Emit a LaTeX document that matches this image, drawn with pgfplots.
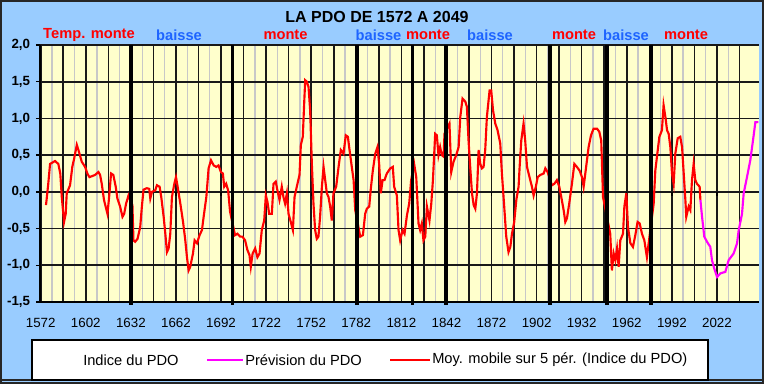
\documentclass[border=0pt]{standalone}
\usepackage{pgfplots}
\pgfplotsset{compat=1.18}
\usepackage{fontspec}
\setmainfont{Liberation Sans}
\definecolor{bgblue}{RGB}{153,204,255}
\definecolor{plotyel}{RGB}{255,255,204}
\definecolor{baisseblue}{RGB}{30,100,255}
\definecolor{gridgray}{RGB}{200,200,200}
\definecolor{pdored}{RGB}{255,0,0}
\definecolor{pdomag}{RGB}{255,0,255}
\begin{document}
\begin{tikzpicture}[x=0.75pt,y=0.75pt]
\useasboundingbox (0,0) rectangle (764,384);
\fill[bgblue] (0,0) rectangle (764,384);
\draw[black!85, line width=1.5pt] (1,1) rectangle (763,383);
\begin{axis}[
  at={(30pt,61.5pt)}, anchor=south west,
  scale only axis, width=539.25pt, height=192.75pt,
  xmin=1571.5, xmax=2050, ymin=-1.5, ymax=2,
  clip=false,
  axis background/.style={fill=plotyel},
  axis x line*=bottom, axis y line*=left,
  axis line style={black, line width=1.3pt},
  xtick={1572,1587,...,2037},
  xticklabels={1572,,1602,,1632,,1662,,1692,,1722,,1752,,1782,,1812,,1842,,1872,,1902,,1932,,1962,,1992,,2022,},
  minor x tick num=1,
  xmajorgrids, xminorgrids,
  major x grid style={black!90, line width=1.2pt},
  minor x grid style={gridgray, line width=1pt},
  xtick style={/pgfplots/major tick length=0pt},
  minor x tick style={/pgfplots/minor tick length=0pt},
  xticklabel style={anchor=center, yshift=-15.75pt, font=\fontsize{10}{12}\selectfont},
  ytick={-1.5,-1,...,2},
  ymajorgrids,
  major y grid style={black!90, line width=1.3pt},
  ytick align=outside,
  ytick style={black, line width=1pt, /pgfplots/major tick length=3pt},
  yticklabel style={anchor=east, inner sep=0pt, xshift=-3pt, font=\bfseries\fontsize{10}{12}\selectfont},
  /pgf/number format/.cd, use comma, fixed, fixed zerofill, precision=1, assume math mode=true,
]
\pgfplotsinvokeforeach{1572,1602,...,2022}{\draw[black, line width=1pt] (axis cs:#1,0) -- ([yshift=-3pt]axis cs:#1,0);}
% Moyenne mobile sur 5 periodes
\addplot[pdored, line width=1.6pt] coordinates {
(1575.5,-0.18) (1577,0.11) (1578.2,0.38) (1581.5,0.42) (1583.7,0.38) (1585,0.25) (1586,-0.07)
(1587.5,-0.41) (1588.6,-0.30) (1589.3,-0.02) (1591.5,0.09) (1593,0.34) (1594.2,0.45) (1596,0.64)
(1597.5,0.54) (1599.3,0.41) (1601.5,0.34) (1603,0.25) (1604.4,0.20) (1608.1,0.23) (1610.4,0.27)
(1611.5,0.23) (1612.6,0.11) (1614.1,-0.11) (1616.4,-0.30) (1617.5,-0.07) (1618.8,0.25) (1620.3,0.23)
(1621.9,0.07) (1623,-0.09) (1624.8,-0.20) (1626.4,-0.34) (1627.5,-0.30) (1628.8,-0.16) (1630.4,-0.05)
(1633,-0.18) (1633.7,-0.66) (1634.8,-0.68) (1636.4,-0.64) (1638.2,-0.48) (1639.3,-0.20) (1640.4,0.03)
(1642.6,0.05) (1644.2,0.04) (1644.9,-0.09) (1646,0.00) (1648.2,0.02) (1649.3,0.09) (1651.1,0.07)
(1652.2,-0.07) (1653.8,-0.34) (1654.9,-0.57) (1656,-0.82) (1657.1,-0.77) (1658.2,-0.57) (1659.3,-0.07)
(1660.9,0.11) (1662,0.20) (1663.1,0.07) (1664.9,-0.16) (1666.7,-0.41) (1668.2,-0.66) (1669.3,-0.89)
(1670.4,-1.07) (1671.5,-1.02) (1673.3,-0.84) (1674.4,-0.66) (1676,-0.70) (1677.7,-0.59) (1679.3,-0.52)
(1680.4,-0.34) (1682.2,-0.07) (1683.7,0.32) (1685.3,0.43) (1687.1,0.36) (1688.8,0.34) (1690.3,0.36)
(1691.9,0.27) (1693.2,0.25) (1694.1,0.07) (1695.4,0.11) (1696.7,0.02) (1698,-0.27)
(1701.3,-0.59) (1702.9,-0.57) (1704.7,-0.61) (1706.2,-0.61) (1708,-0.66) (1709.5,-0.79) (1710.9,-0.86)
(1711.8,-1.02) (1713,-0.84) (1714.7,-0.77) (1716.2,-0.89) (1717.6,-0.84) (1719.1,-0.52) (1720.7,-0.39)
(1721.8,-0.05) (1722.9,-0.14) (1724,-0.30) (1725.8,-0.30) (1726.9,0.11) (1728.4,0.14) (1729.5,0.02)
(1730.9,-0.11) (1732.4,0.07) (1733.5,-0.07) (1734.6,-0.16) (1735.8,-0.02) (1736.9,-0.30) (1738.4,-0.41)
(1739.8,-0.52) (1740.9,-0.07) (1742.4,0.07) (1744.2,0.23) (1745.1,0.64) (1746.4,0.75) (1747.3,1.20)
(1748,1.52) (1749.1,1.50) (1750.2,1.43) (1751.3,1.11) (1752.4,0.39) (1753.5,-0.16) (1754.6,-0.52)
(1755.7,-0.64) (1756.8,-0.61) (1757.9,-0.34) (1759.1,0.07) (1760.2,0.34) (1761.3,0.16) (1762.4,-0.02)
(1763.5,-0.07) (1764.6,-0.20) (1765.7,-0.39) (1766.8,-0.02) (1768.6,0.07) (1770.2,0.34) (1771.7,0.57)
(1773.5,0.52) (1775,0.77) (1776.4,0.75) (1777.5,0.57) (1779,0.34) (1780.2,0.16) (1781.3,-0.25)
(1784.6,-0.61) (1786.4,-0.59) (1787.9,-0.30) (1789,-0.23) (1790.6,-0.20) (1791.7,0.05) (1793,0.29)
(1794.6,0.52) (1796.1,0.61) (1797.2,0.38) (1798.3,-0.02) (1799.5,0.16) (1800.8,0.16) (1802.3,0.25)
(1804.6,0.32) (1806.3,0.34) (1807.2,0.07) (1809,-0.05) (1810.1,-0.52) (1811.2,-0.66) (1812.8,-0.52)
(1814.1,-0.57) (1815.7,-0.32) (1817.2,-0.16) (1818.5,0.16) (1820.5,0.38) (1821.9,0.20) (1823.4,-0.43)
(1824.5,-0.52) (1825.6,-0.43) (1826.7,-0.66) (1827.9,-0.61) (1829,-0.20) (1830.7,-0.39) (1831.9,-0.16)
(1833,0.16) (1834.5,0.79) (1835.6,0.77) (1836.7,0.50) (1837.8,0.61) (1838.9,0.50) (1840.1,0.48)
(1840.7,0.79) (1844,0.93) (1845.2,0.27) (1846.7,0.41) (1848.5,0.50) (1850.1,0.61) (1851.2,1.02)
(1852.7,1.27) (1854.5,1.23) (1855.6,1.16) (1856.7,0.70) (1857.8,0.34) (1859,-0.02) (1860.1,-0.18)
(1861.2,-0.23) (1862.3,-0.02) (1863.4,0.57) (1864.5,0.38) (1865.6,0.32) (1866.7,0.34) (1867.8,0.57)
(1868.9,1.02) (1870.7,1.38) (1871.8,1.38) (1873,1.11) (1874.5,0.93) (1876,0.84) (1877.8,0.66)
(1878.9,0.25) (1880,-0.07) (1881.8,-0.61) (1883.3,-0.82) (1884.5,-0.75) (1885.6,-0.57) (1887.1,-0.41)
(1888.5,-0.11) (1890,0.07) (1890.7,0.34) (1891.8,0.70) (1893.3,0.93) (1894.4,0.70) (1895.6,0.34)
(1897.3,0.20) (1898.9,0.07) (1900,-0.05) (1901.5,0.07) (1902.7,0.20) (1904.4,0.23) (1906.7,0.25)
(1907.8,0.32) (1909.3,0.27) (1912.2,0.09) (1913.8,0.11) (1915.5,0.16) (1917.1,0.07) (1918.4,-0.07)
(1920,-0.25) (1921.1,-0.41) (1922.2,-0.36) (1923.7,-0.16) (1925.5,0.11) (1927.1,0.38) (1928.8,0.34)
(1930.6,0.29) (1932.2,0.20) (1933.3,0.07) (1934.4,0.25) (1935.5,0.43) (1936.6,0.61) (1938.2,0.77)
(1939.9,0.86) (1942.2,0.86) (1943.7,0.82) (1945,0.70) (1946.2,-0.07) (1951,-0.57) (1952.1,-1.07)
(1953.3,-0.84) (1954.4,-0.93) (1955.5,-0.77) (1956.6,-1.02) (1957.7,-0.66) (1959.5,-0.57) (1960.4,-0.20)
(1961.7,-0.02) (1962.8,-0.48) (1964.4,-0.70) (1966.1,-0.75) (1967.7,-0.59) (1969.2,-0.41) (1970.6,-0.43)
(1972.1,-0.57) (1973.7,-0.66) (1975.4,-0.89) (1979.9,-0.16) (1981,0.29) (1982.1,0.48) (1983.7,0.75)
(1985.4,0.84) (1986.5,1.18) (1987.7,1.02) (1988.8,0.84) (1989.9,0.79) (1991,0.61) (1992.1,0.25)
(1993.2,0.11) (1994.3,0.52) (1995.9,0.73) (1997.6,0.75) (1998.8,0.61) (1999.9,0.25) (2001,-0.11)
(2001.6,-0.34) (2003.2,-0.20) (2004.3,-0.25) (2005.4,0.16) (2006.5,0.38) (2007.6,0.16) (2008.7,0.11)
(2010.5,0.07) (2011,-0.11)
};
% Prevision du PDO
\addplot[pdomag, line width=1.6pt] coordinates {
(2011,-0.11) (2012.1,-0.34) (2013.6,-0.61) (2015.4,-0.68) (2017.6,-0.75) (2018.7,-0.93) (2020.3,-1.05)
(2022.1,-1.16) (2024.3,-1.11) (2027.6,-1.09) (2029.8,-0.93) (2033.1,-0.84) (2035.4,-0.70) (2036.5,-0.52)
(2038.7,-0.30) (2039.8,-0.02) (2042,0.20) (2044.2,0.43) (2046,0.70) (2047.6,0.95) (2049.5,0.95)
};
% changements de phase
\addplot[black, line width=2.8pt] coordinates {(1632,-1.54) (1632,2)};
\addplot[black, line width=2.8pt] coordinates {(1699.6,-1.54) (1699.6,2)};
\addplot[black, line width=2.8pt] coordinates {(1782.4,-1.54) (1782.4,2)};
\addplot[black, line width=2.8pt] coordinates {(1819.4,-1.54) (1819.4,2)};
\addplot[black, line width=2.8pt] coordinates {(1841.8,-1.54) (1841.8,2)};
\addplot[black, line width=2.8pt] coordinates {(1911,-1.54) (1911,2)};
\addplot[black, line width=2.8pt] coordinates {(1948.8,-1.54) (1948.8,2)};
\addplot[black, line width=2.8pt] coordinates {(1978.1,-1.54) (1978.1,2)};
\end{axis}
% titre
\node[font=\bfseries\fontsize{12}{14}\selectfont] at (377,367) {LA PDO DE 1572 A 2049};
% phases
\begin{scope}[every node/.style={font=\bfseries\fontsize{11}{13}\selectfont}]
\node[text=pdored] at (89,349) {Temp. monte};
\node[text=baisseblue] at (179,349) {baisse};
\node[text=pdored] at (285.5,349) {monte};
\node[text=baisseblue] at (378.5,349) {baisse};
\node[text=pdored] at (428,349) {monte};
\node[text=baisseblue] at (490,349) {baisse};
\node[text=pdored] at (574,349) {monte};
\node[text=baisseblue] at (626,349) {baisse};
\node[text=pdored] at (686,349) {monte};
\end{scope}
% legende
\draw[black!85, line width=0.8pt] (0,4) -- (764,4);
\draw[black, fill=white, line width=0.8pt] (32,4) rectangle (708,44);
\begin{scope}[every node/.style={font=\fontsize{11}{13}\selectfont, anchor=west, inner sep=0pt}]
\node at (83,24) {Indice du PDO};
\draw[pdomag, line width=2pt] (207,24) -- (243,24);
\node at (245,24) {Prévision du PDO};
\draw[pdored, line width=2pt] (390,24) -- (430,24);
\node at (432,24) {Moy. mobile sur 5 pér. (Indice du PDO)};
\end{scope}
\end{tikzpicture}
\end{document}
